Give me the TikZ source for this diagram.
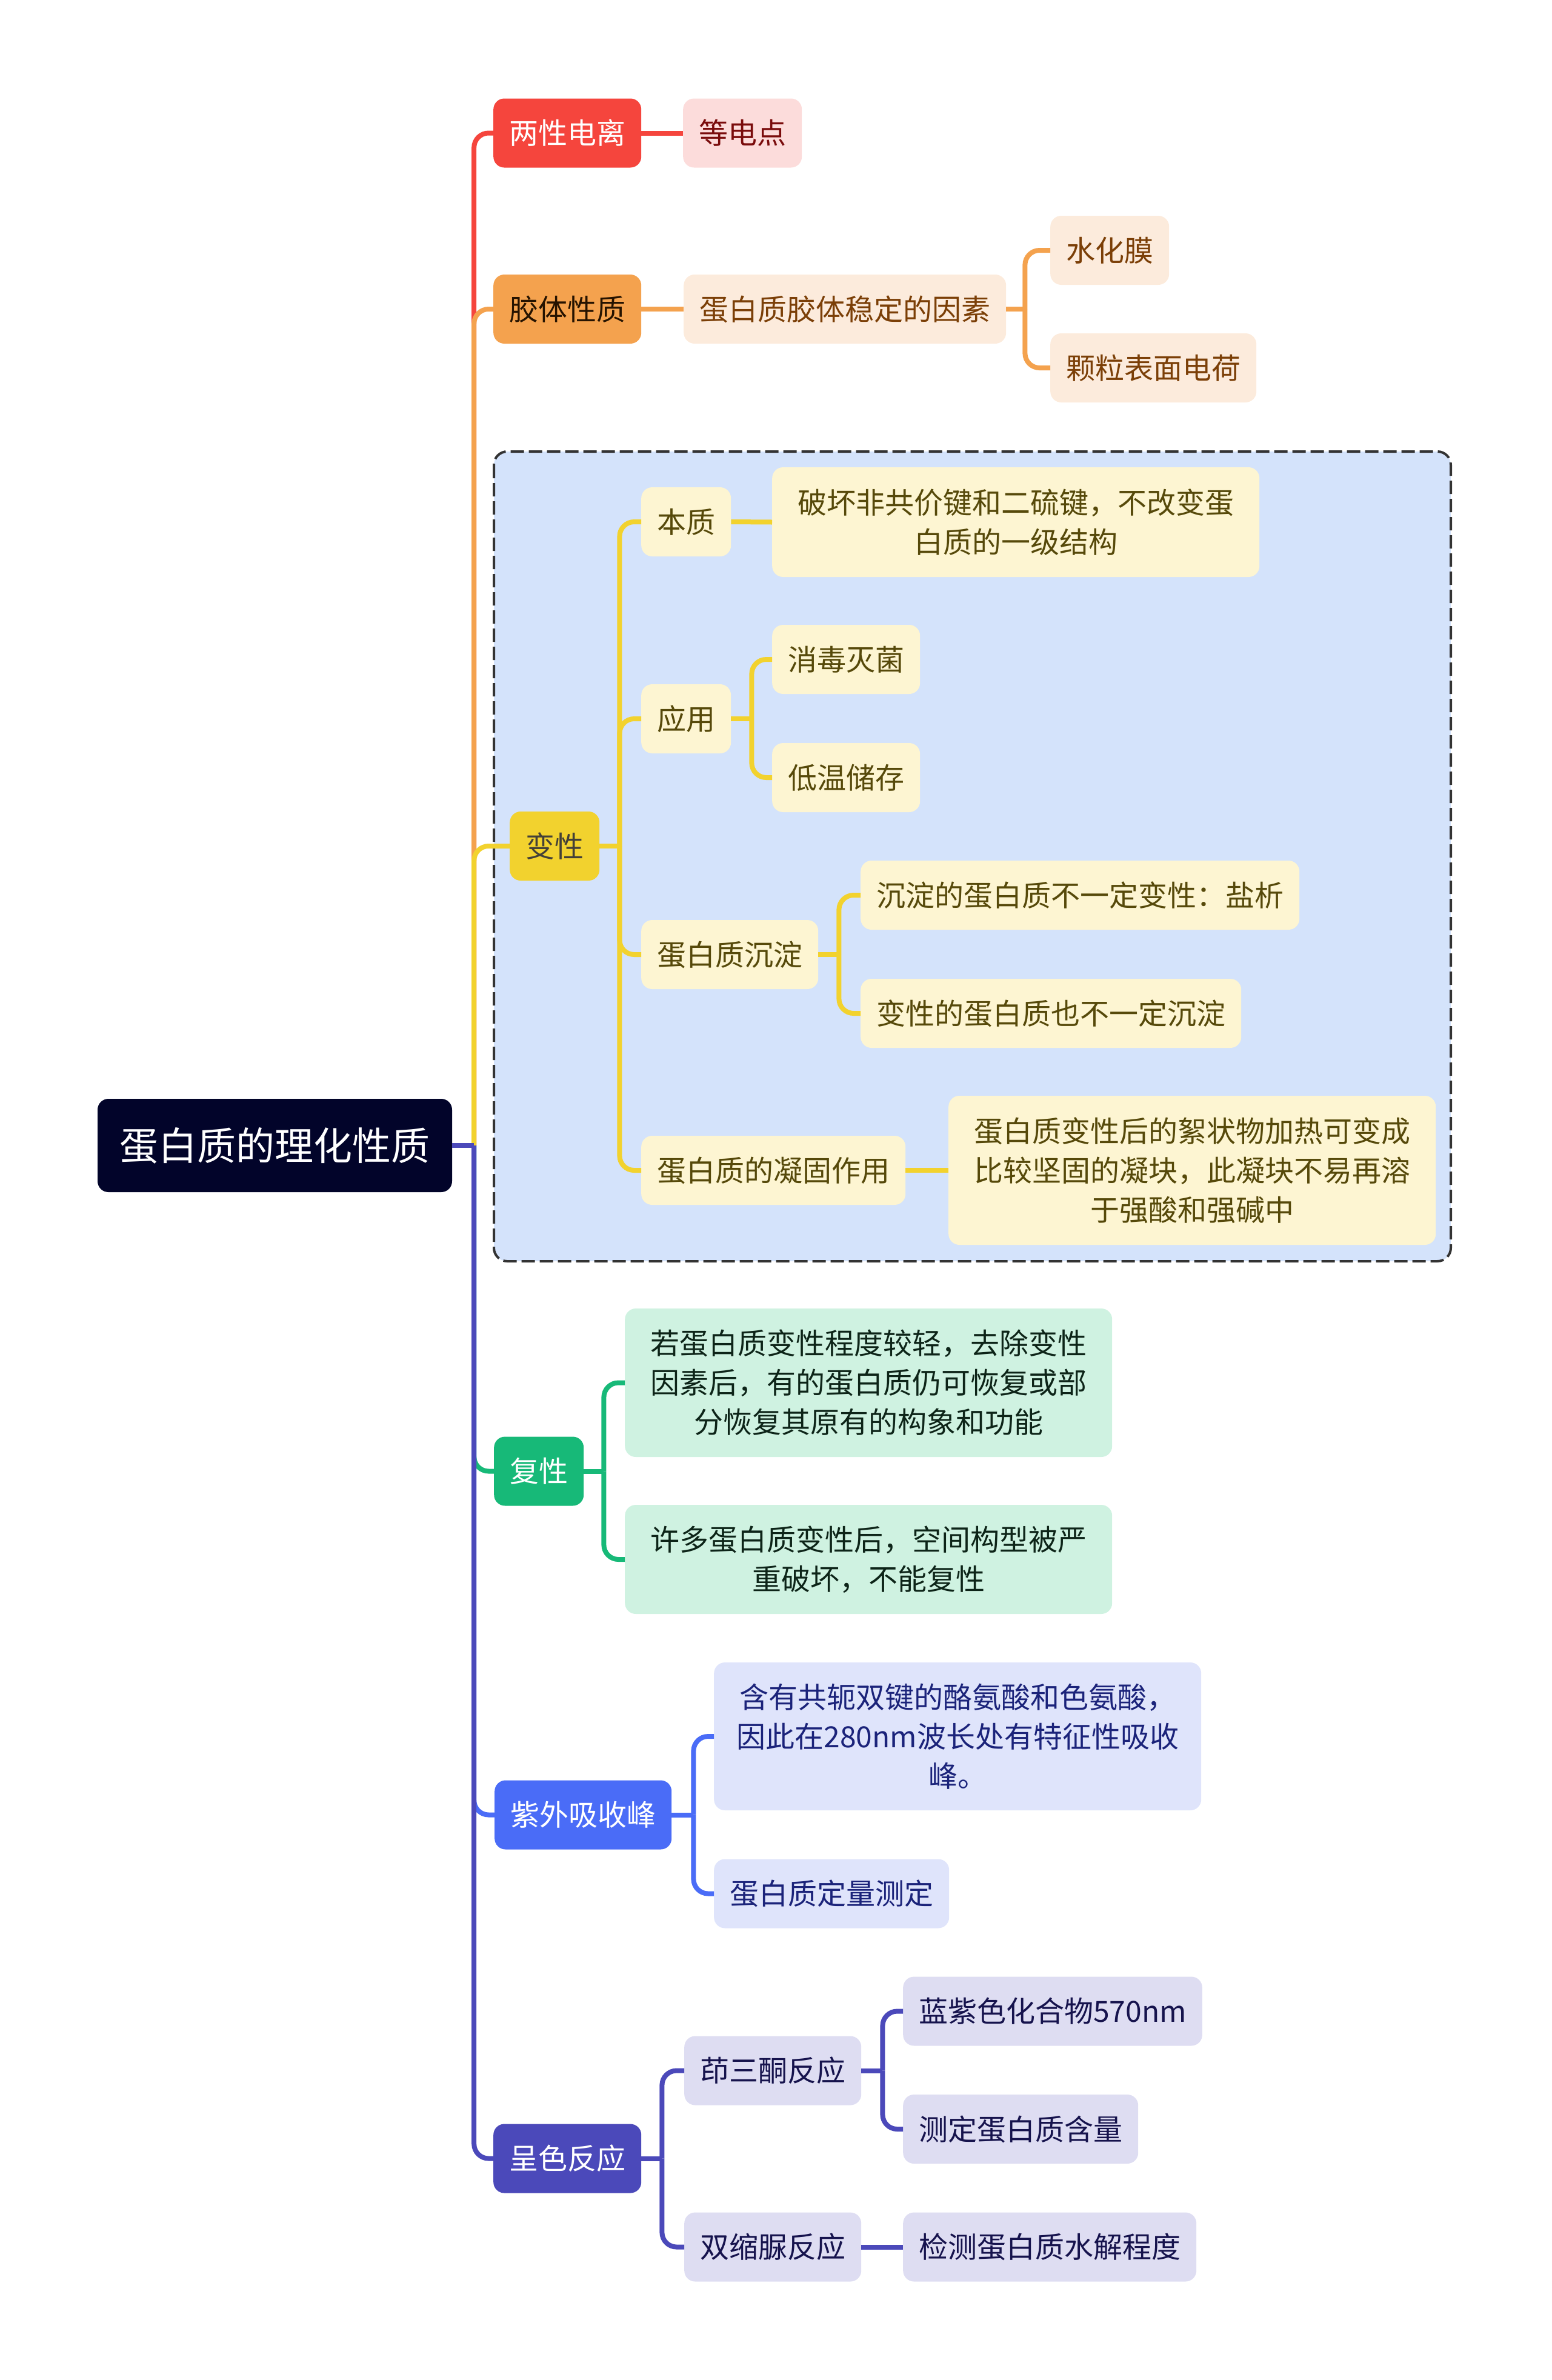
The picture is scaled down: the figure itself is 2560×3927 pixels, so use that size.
\documentclass[tikz,border=0pt]{standalone}
\usepackage{fontspec}
\setmainfont{Noto Sans CJK SC}
\usetikzlibrary{calc}

\definecolor{rootc}{HTML}{02042A}
\definecolor{redc}{HTML}{F5453D}
\definecolor{redl}{HTML}{FCDCDB}
\definecolor{redt}{HTML}{7A0C0C}
\definecolor{orac}{HTML}{F4A24E}
\definecolor{oral}{HTML}{FCEBDC}
\definecolor{orat}{HTML}{7B3F07}
\definecolor{yelc}{HTML}{F2D22E}
\definecolor{yell}{HTML}{FDF5D2}
\definecolor{yelt}{HTML}{56490A}
\definecolor{grnc}{HTML}{17B978}
\definecolor{grnl}{HTML}{CFF2E1}
\definecolor{grnt}{HTML}{0D2418}
\definecolor{bluc}{HTML}{4A6CF7}
\definecolor{blul}{HTML}{DFE4FB}
\definecolor{blut}{HTML}{1B237A}
\definecolor{purc}{HTML}{4B49BA}
\definecolor{purl}{HTML}{DEDDF2}
\definecolor{purt}{HTML}{16134D}
\definecolor{zonec}{HTML}{D4E3FB}

\tikzset{
  topic/.style={rounded corners=18pt, minimum height=114pt, inner xsep=26pt,
    inner ysep=0pt, anchor=west, font=\fontsize{48}{65}\selectfont},
  para/.style={topic, text width=780pt, align=center, inner xsep=12pt},
  link/.style={line width=8pt, rounded corners=24pt},
}

\begin{document}
\begin{tikzpicture}[x=1pt, y=-1pt]
  \useasboundingbox (0,0) rectangle (2560,3927);

  % dashed zone behind the denaturation branch
  \draw[fill=zonec, draw=black!80, line width=4pt, dash pattern=on 22pt off 8pt,
    rounded corners=22pt] (815,745) rectangle (2394,2081);

  % root
  \node[rounded corners=18pt, fill=rootc, text=white, minimum width=585pt,
    minimum height=154pt, font=\fontsize{64}{76}\selectfont] (root) at (453.5,1890) {蛋白质的理化性质};

  % first level
  \node[topic, fill=redc, text=white] (lx) at (814,219.5) {两性电离};
  \node[topic, fill=orac, text=black!85!orange] (jt) at (814,510) {胶体性质};
  \node[topic, fill=yelc, text=black!85!yellow] (bx) at (841,1396) {变性};
  \node[topic, fill=grnc, text=white] (fx) at (815,2427.5) {复性};
  \node[topic, fill=bluc, text=white] (zw) at (816,2994.5) {紫外吸收峰};
  \node[topic, fill=purc, text=white] (cs) at (814,3561.5) {呈色反应};

  % 两性电离 / 胶体性质
  \node[topic, fill=redl, text=redt] (ddd) at (1127,219.5) {等电点};
  \node[topic, fill=oral, text=orat] (jtys) at (1128,510) {蛋白质胶体稳定的因素};
  \node[topic, fill=oral, text=orat] (shm) at (1733,413) {水化膜};
  \node[topic, fill=oral, text=orat] (klbm) at (1733,607) {颗粒表面电荷};

  % 变性
  \node[topic, fill=yell, text=yelt] (bz) at (1058,861) {本质};
  \node[para, fill=yell, text=yelt, minimum height=181pt] (phj) at (1274,861.5)
    {破坏非共价键和二硫键，不改变蛋\\白质的一级结构};
  \node[topic, fill=yell, text=yelt] (yy) at (1058,1186) {应用};
  \node[topic, fill=yell, text=yelt] (xdmj) at (1274,1088) {消毒灭菌};
  \node[topic, fill=yell, text=yelt] (dwcc) at (1274,1283) {低温储存};
  \node[topic, fill=yell, text=yelt] (cd) at (1058,1575) {蛋白质沉淀};
  \node[topic, fill=yell, text=yelt] (cda) at (1420,1477) {沉淀的蛋白质不一定变性：盐析};
  \node[topic, fill=yell, text=yelt] (cdb) at (1420,1672) {变性的蛋白质也不一定沉淀};
  \node[topic, fill=yell, text=yelt] (ng) at (1058,1931) {蛋白质的凝固作用};
  \node[para, fill=yell, text=yelt, minimum height=246pt] (ngk) at (1565,1931)
    {蛋白质变性后的絮状物加热可变成\\比较坚固的凝块，此凝块不易再溶\\于强酸和强碱中};

  % 复性
  \node[para, fill=grnl, text=grnt, minimum height=245pt] (fxa) at (1031,2281.5)
    {若蛋白质变性程度较轻，去除变性\\因素后，有的蛋白质仍可恢复或部\\分恢复其原有的构象和功能};
  \node[para, fill=grnl, text=grnt, minimum height=180pt] (fxb) at (1031,2573)
    {许多蛋白质变性后，空间构型被严\\重破坏，不能复性};

  % 紫外吸收峰
  \node[para, fill=blul, text=blut, minimum height=244pt] (zwa) at (1178,2865)
    {含有共轭双键的酪氨酸和色氨酸，\\因此在280nm波长处有特征性吸收\\峰。};
  \node[topic, fill=blul, text=blut] (zwb) at (1178,3124.5) {蛋白质定量测定};

  % 呈色反应
  \node[topic, fill=purl, text=purt] (nsb) at (1129,3416.5) {茚三酮反应};
  \node[topic, fill=purl, text=purt] (nsa) at (1490,3318.5) {蓝紫色化合物570nm};
  \node[topic, fill=purl, text=purt] (nsc) at (1490,3513) {测定蛋白质含量};
  \node[topic, fill=purl, text=purt] (ssn) at (1129,3707.5) {双缩脲反应};
  \node[topic, fill=purl, text=purt] (ssd) at (1490,3707.5) {检测蛋白质水解程度};

  % spines
  \coordinate (rs) at ($(root.east)+(36,0)$);
  \coordinate (jts) at ($(jtys.east)+(31,0)$);
  \coordinate (bxs) at ($(bx.east)+(33,0)$);
  \coordinate (yys) at ($(yy.east)+(34,0)$);
  \coordinate (cds) at ($(cd.east)+(34,0)$);
  \coordinate (fxs) at ($(fx.east)+(33,0)$);
  \coordinate (zws) at ($(zw.east)+(36,0)$);
  \coordinate (css) at ($(cs.east)+(34,0)$);
  \coordinate (nss) at ($(nsb.east)+(35,0)$);

  % root to first level, top to bottom
  \draw[link, redc] (rs) |- (lx.west);
  \draw[link, orac] (rs) |- (jt.west);
  \draw[link, yelc] (rs) |- (bx.west);
  \draw[link, grnc] (rs) |- (fx.west);
  \draw[link, bluc] (rs) |- (zw.west);
  \draw[link, purc] (rs) |- (cs.west);
  \draw[link, purc] (root.east) -- (rs);

  \draw[link, redc] (lx.east) -- (ddd.west);
  \draw[link, orac] (jt.east) -- (jtys.west);
  \draw[link, orac] (jtys.east) -- (jts);
  \foreach \n in {shm,klbm} \draw[link, orac] (jts) |- (\n.west);

  \draw[link, yelc] (bx.east) -- (bxs);
  \foreach \n in {bz,yy,cd,ng} \draw[link, yelc] (bxs) |- (\n.west);
  \draw[link, yelc] (bz.east) -- (phj.west);
  \draw[link, yelc] (yy.east) -- (yys);
  \foreach \n in {xdmj,dwcc} \draw[link, yelc] (yys) |- (\n.west);
  \draw[link, yelc] (cd.east) -- (cds);
  \foreach \n in {cda,cdb} \draw[link, yelc] (cds) |- (\n.west);
  \draw[link, yelc] (ng.east) -- (ngk.west);

  \draw[link, grnc] (fx.east) -- (fxs);
  \foreach \n in {fxa,fxb} \draw[link, grnc] (fxs) |- (\n.west);

  \draw[link, bluc] (zw.east) -- (zws);
  \foreach \n in {zwa,zwb} \draw[link, bluc] (zws) |- (\n.west);

  \draw[link, purc] (cs.east) -- (css);
  \foreach \n in {nsb,ssn} \draw[link, purc] (css) |- (\n.west);
  \draw[link, purc] (nsb.east) -- (nss);
  \foreach \n in {nsa,nsc} \draw[link, purc] (nss) |- (\n.west);
  \draw[link, purc] (ssn.east) -- (ssd.west);
\end{tikzpicture}
\end{document}
